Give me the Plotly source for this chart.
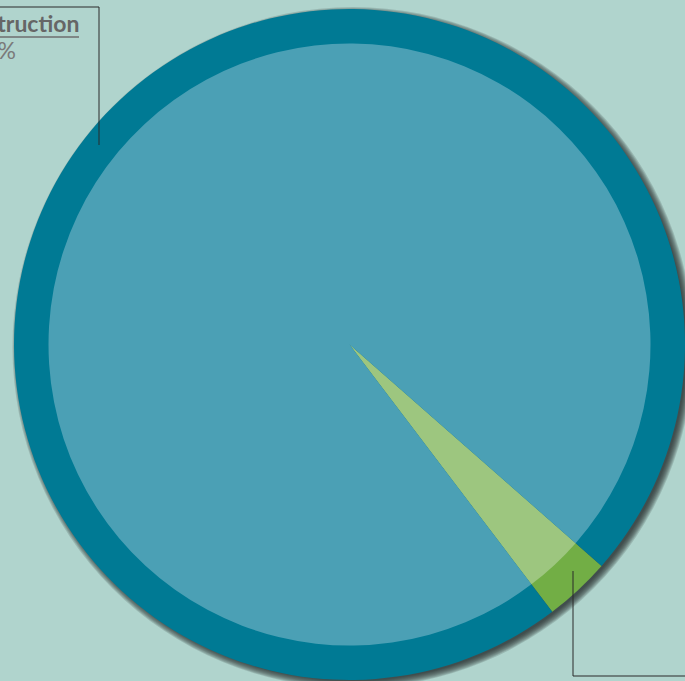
import plotly.graph_objects as go

# Share of spending by sector
labels = ["Other", "Construction"]
values = [3.2, 96.8]

outer_colors = ["#72AE45", "#007A94"]
inner_colors = ["#9DC67F", "#4BA0B5"]

W, H = 685, 681
BG = "#B0D4CD"

# pie geometry in pixels
CX, CY = 349.5, 344.5
R_OUT = 335.5
R_IN = 301.0
START = 131.3  # clockwise from 12 o'clock, where the first slice begins


def px(x):
    return x / W


def py(y):
    return 1 - y / H


fig = go.Figure()

common = dict(
    labels=labels,
    values=values,
    sort=False,
    direction="clockwise",
    rotation=START,
    textinfo="none",
    hoverinfo="label+percent",
    showlegend=False,
)

fig.add_trace(go.Pie(
    domain=dict(x=[px(CX - R_OUT), min(1, px(CX + R_OUT))],
                y=[max(0, py(CY + R_OUT)), py(CY - R_OUT)]),
    marker=dict(colors=outer_colors, line=dict(width=0)),
    **common,
))
fig.add_trace(go.Pie(
    domain=dict(x=[px(CX - R_IN), px(CX + R_IN)],
                y=[py(CY + R_IN), py(CY - R_IN)]),
    marker=dict(colors=inner_colors, line=dict(width=0)),
    **common,
))

shapes = []
# soft drop shadow behind the disc
SX, SY = CX + 3.5, CY + 3
for k in range(8):
    r = R_OUT - 2 + k
    shapes.append(dict(
        type="circle", xref="paper", yref="paper", layer="below",
        x0=px(SX - r), x1=px(SX + r), y0=py(SY + r), y1=py(SY - r),
        fillcolor="rgba(35,40,40,0.17)", line=dict(width=0),
    ))

# leader line for the large slice
shapes.append(dict(
    type="path", xref="paper", yref="paper",
    path=f"M {px(-2)} {py(7)} L {px(99)} {py(7)} L {px(99)} {py(145)}",
    line=dict(color="#2B2B2B", width=1),
))
# separator under the category name
shapes.append(dict(
    type="line", xref="paper", yref="paper",
    x0=px(-2), x1=px(79), y0=py(37), y1=py(37),
    line=dict(color="#6E6E6E", width=1.5),
))
# leader line for the small slice
shapes.append(dict(
    type="path", xref="paper", yref="paper",
    path=f"M {px(573)} {py(571)} L {px(573)} {py(676)} L {px(690)} {py(676)}",
    line=dict(color="#2B2B2B", width=1),
))

# category name and its share
fig.add_annotation(
    xref="paper", yref="paper",
    x=px(81), y=py(7),
    xanchor="right", yanchor="top",
    showarrow=False,
    text=f"<b>{labels[1]}</b>",
    font=dict(family="Lato", size=23, color="#666666"),
)
fig.add_annotation(
    xref="paper", yref="paper",
    x=px(18), y=py(34),
    xanchor="right", yanchor="top",
    showarrow=False,
    text=f"{values[1]}%",
    font=dict(family="Lato", size=23, color="#7A7A7A"),
)

fig.update_layout(
    width=W, height=H,
    margin=dict(l=0, r=0, t=0, b=0),
    paper_bgcolor=BG,
    plot_bgcolor=BG,
    shapes=shapes,
)

fig.write_html("out.html")
